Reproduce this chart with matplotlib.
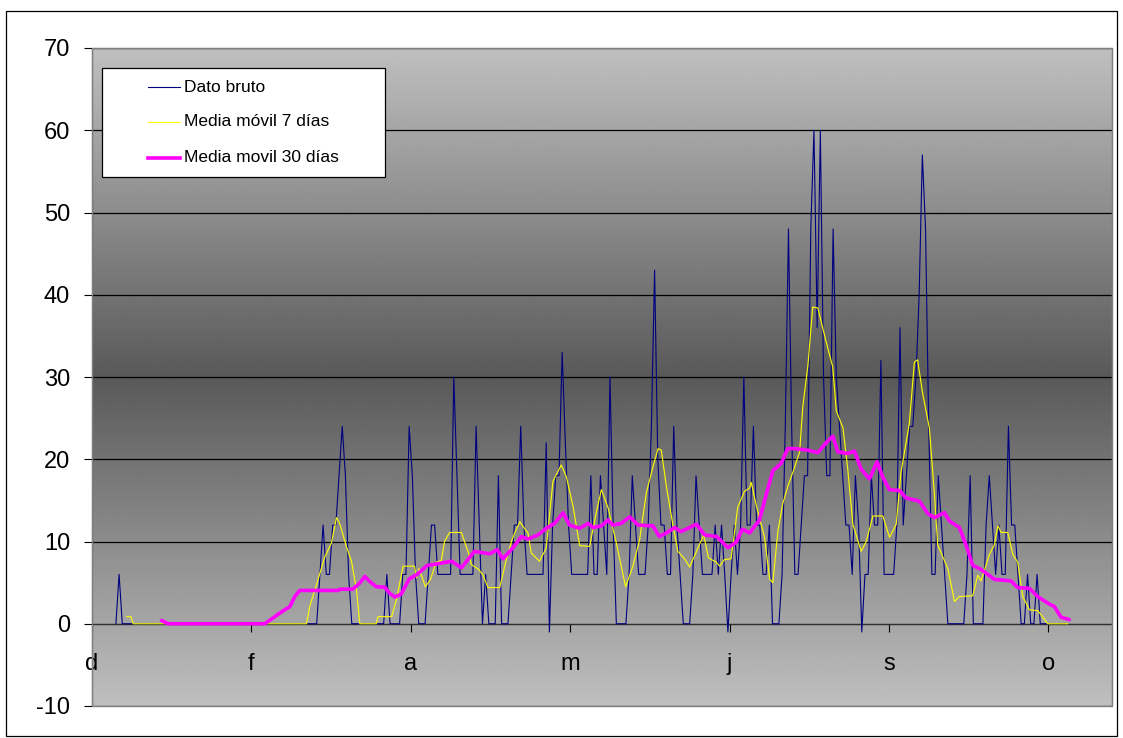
import numpy as np
import matplotlib
matplotlib.use('Agg')
import matplotlib.pyplot as plt
from matplotlib.patches import Rectangle
from matplotlib.lines import Line2D

plt.rcParams['font.family'] = ['Liberation Sans', 'DejaVu Sans']
plt.rcParams['axes.unicode_minus'] = False

W, H = 1123, 738

# dato bruto, one value per day starting at day 7
raw_first_day = 7
raw_values = [
    0, 6, 0, 0, 0, 0, 0, 0, 0, 0,
    0, 0, 0, 0, 0, 0, 0, 0, 0, 0,
    0, 0, 0, 0, 0, 0, 0, 0, 0, 0,
    0, 0, 0, 0, 0, 0, 0, 0, 0, 0,
    0, 0, 0, 0, 0, 0, 0, 0, 0, 0,
    0, 0, 0, 0, 0, 0, 0, 0, 0, 0,
    0, 0, 0, 0, 6, 12, 6, 6, 12, 12,
    18, 24, 18, 6, 0, 0, 0, 0, 0, 0,
    0, 0, 0, 0, 0, 6, 0, 0, 0, 0,
    6, 6, 24, 18, 6, 0, 0, 0, 6, 12,
    12, 6, 6, 6, 6, 6, 30, 18, 6, 6,
    6, 6, 6, 24, 12, 0, 6, 0, 0, 0,
    18, 0, 0, 0, 6, 12, 12, 24, 12, 6,
    6, 6, 6, 6, 6, 22, -1, 12, 18, 18,
    33, 22, 12, 6, 6, 6, 6, 6, 6, 18,
    6, 6, 18, 12, 6, 30, 12, 0, 0, 0,
    0, 6, 18, 12, 6, 6, 6, 12, 24, 43,
    20, 12, 12, 6, 6, 24, 12, 6, 0, 0,
    0, 6, 18, 12, 6, 6, 6, 6, 12, 6,
    12, 6, -1, 6, 12, 6, 12, 30, 12, 12,
    24, 12, 12, 6, 6, 12, 0, 0, 0, 6,
    24, 48, 24, 6, 6, 12, 18, 18, 48, 60,
    36, 60, 30, 18, 18, 48, 30, 24, 18, 12,
    12, 6, 18, 12, -1, 6, 6, 18, 12, 12,
    32, 6, 6, 6, 6, 12, 36, 12, 18, 24,
    24, 30, 40, 57, 48, 24, 6, 6, 18, 12,
    6, 0, 0, 0, 0, 0, 0, 6, 18, 0,
    0, 0, 0, 12, 18, 12, 6, 12, 6, 6,
    24, 12, 12, 6, 0, 0, 6, 0, 0, 6,
    0, 0, 0, 0, 0, 0, 0, 0, 0,
]

# media movil 7 dias
ma7_days = [10.9, 12.2, 12.9, 67.3, 68.3, 70.4, 73.0, 75.1, 76.7, 77.7, 79.8, 81.4,
            83.0, 84.0, 89.2, 89.7, 94.0, 95.5, 97.6, 101.2, 101.8, 102.6, 104.6,
            106.2, 108.0, 109.6, 110.6, 112.2, 115.9, 118.2, 119.0, 121.3, 122.7,
            124.2, 127.9, 130.0, 131.6, 132.6, 134.2, 136.8, 137.8, 140.4, 142.5,
            144.6, 147.2, 148.8, 150.9, 153.0, 156.1, 158.2, 159.8, 161.9, 164.5,
            167.4, 169.7, 171.8, 173.9, 176.0, 177.6, 178.6, 180.2, 182.2, 183.8,
            185.9, 187.5, 191.9, 193.4, 195.8, 196.9, 198.4, 200.5, 202.6, 204.7,
            206.3, 206.8, 208.4, 211.0, 212.6, 213.6, 215.2, 216.7, 218.3, 220.4,
            222.0, 223.0, 224.6, 226.1, 227.7, 230.3, 232.4, 233.5, 235.6, 237.1,
            238.7, 241.3, 242.9, 245.0, 248.1, 250.2, 252.3, 253.8, 256.4, 258.0,
            259.0, 260.6, 262.7, 264.3, 265.3, 268.5, 270.6, 272.1, 276.3, 277.9,
            278.9, 281.5, 283.1, 284.2, 285.2, 287.3, 288.9, 290.4, 292.0, 294.1,
            296.7, 298.3, 299.8, 306.1]
ma7_values = [0.86, 0.86, 0, 0, 2.1, 4.7, 8.1, 9.8, 12.9, 12.2, 9.4, 7.6,
              4.1, 0, 0, 0.86, 0.86, 2.9, 7.0, 7.0, 5.6, 6.7, 4.5,
              5.4, 7.5, 7.7, 10.0, 11.1, 11.1, 8.5, 7.2, 6.6, 5.9,
              4.4, 4.4, 7.8, 10.0, 11.0, 12.4, 11.0, 8.6, 7.6, 9.2,
              17.3, 19.3, 17.9, 14.3, 9.5, 9.4, 13.5, 16.3, 14.1, 9.8,
              4.5, 7.0, 10.2, 15.9, 19.1, 21.3, 21.1, 16.7, 12.1, 8.8,
              7.9, 6.9, 10.8, 8.0, 7.5, 7.0, 7.8, 7.9, 14.2, 16.1,
              16.5, 17.2, 14.4, 10.5, 5.4, 5.0, 11.3, 14.6, 16.7, 19.0,
              20.9, 26.4, 31.4, 38.5, 38.4, 34.3, 31.2, 25.9, 23.8, 18.8,
              12.1, 8.8, 10.0, 13.1, 13.1, 10.5, 12.1, 18.4, 24.3, 31.8,
              32.1, 28.0, 23.8, 15.7, 9.6, 6.7, 2.7, 3.3, 3.4, 5.9,
              5.2, 8.4, 9.6, 11.9, 11.1, 11.1, 8.4, 7.5, 3.3, 1.7,
              1.6, 0.8, 0, 0]

# media movil 30 dias
ma30_days = [21.8, 23.9, 54.2, 56.8, 58.9, 62.1, 63.6, 65.2, 77.2, 77.8, 81.8, 84.0,
             85.6, 87.1, 89.2, 91.8, 93.4, 95.0, 97.0, 99.5, 101.8, 105.2, 107.0,
             112.8, 115.9, 120.0, 124.8, 127.1, 128.9, 132.0, 134.7, 136.8, 139.9,
             142.5, 145.1, 147.8, 149.8, 153.0, 155.6, 157.2, 159.8, 161.9, 163.4,
             166.0, 168.7, 171.3, 176.0, 178.0, 180.4, 182.8, 184.8, 189.6, 192.2,
             196.0, 199.5, 202.1, 204.0, 206.3, 209.4, 211.5, 213.6, 216.2, 218.3,
             220.4, 224.6, 227.7, 230.3, 232.4, 234.0, 237.1, 239.2, 241.3, 243.9,
             246.3, 248.1, 250.2, 253.3, 255.4, 259.6, 262.2, 264.3, 267.4, 269.0,
             272.1, 274.2, 276.3, 278.9, 283.1, 288.3, 290.4, 294.1, 296.7, 300.3,
             301.9, 304.0, 306.6]
ma30_values = [0.4, 0, 0, 0.7, 1.3, 2.1, 3.3, 4.05, 4.05, 4.2, 4.2, 4.95,
               5.75, 5.15, 4.5, 4.45, 3.7, 3.25, 3.6, 5.45, 5.95, 7.1, 7.2,
               7.6, 6.8, 8.8, 8.5, 9.0, 7.9, 9.2, 10.6, 10.3, 10.8,
               11.6, 12.2, 13.5, 12.0, 11.6, 12.2, 11.7, 11.9, 12.6, 12.0,
               12.2, 13.0, 12.0, 11.9, 10.6, 11.1, 11.7, 11.2, 12.1, 10.8,
               10.6, 9.25, 9.9, 11.5, 11.05, 12.6, 15.7, 18.6, 19.5, 21.3,
               21.3, 21.1, 20.8, 22.0, 22.8, 20.9, 20.7, 21.0, 18.8, 17.6,
               19.7, 17.8, 16.3, 16.2, 15.3, 14.9, 13.4, 12.9, 13.5, 12.5,
               11.7, 9.6, 7.1, 6.6, 5.4, 5.2, 4.4, 4.3, 3.3, 2.4,
               2.1, 0.8, 0.5]

series_labels = ['Dato bruto', 'Media móvil 7 días', 'Media movil 30 días']
series_colors = ['#000080', '#FFFF00', '#FF00FF']
series_widths = [0.8, 0.8, 2.6]

tick_days = [0, 50, 100, 150, 200, 250, 300]
tick_labels = ['d', 'f', 'a', 'm', 'j', 's', 'o']
n_days = 320
y_ticks = list(range(-10, 71, 10))

fig = plt.figure(figsize=(W / 100, H / 100), dpi=100)
fig.patch.set_facecolor('white')
ax = fig.add_axes([92 / W, 1 - 706 / H, (1112 - 92) / W, (706 - 48) / H])

# grey gradient, dark in the middle
gv = np.linspace(-10, 70, 400)
shade = 0.35 + 0.40 * np.abs(gv - 30) / 40
ax.imshow(np.repeat(shade[:, None], 2, axis=1), cmap='gray', vmin=0, vmax=1,
          extent=[0, n_days, -10, 70], origin='lower', aspect='auto',
          interpolation='bilinear', zorder=0)

raw_x = np.arange(raw_first_day, raw_first_day + len(raw_values)) + 0.5
ax.plot(raw_x, raw_values, color=series_colors[0], lw=series_widths[0], zorder=3)
ax.plot(ma7_days, ma7_values, color=series_colors[1], lw=series_widths[1], zorder=4)
ax.plot(ma30_days, ma30_values, color=series_colors[2], lw=series_widths[2],
        solid_capstyle='round', solid_joinstyle='round', zorder=5)

ax.set_xlim(0, n_days)
ax.set_ylim(-10, 70)
ax.set_yticks(y_ticks)
ax.set_xticks(tick_days)
ax.set_xticklabels(tick_labels)
ax.yaxis.grid(True, color='black', lw=0.9)
ax.set_axisbelow(True)

ax.tick_params(axis='y', direction='out', length=5.8, width=0.8, labelsize=17, pad=10)
ax.tick_params(axis='x', direction='out', length=5.8, width=0.8, labelsize=17, pad=15.5)

ax.spines['bottom'].set_position(('data', 0))
ax.spines['bottom'].set_color('#303030')
ax.spines['bottom'].set_zorder(2)
ax.spines['left'].set_color('#303030')
for s in ['top', 'right']:
    ax.spines[s].set_color('#808080')
ax.add_patch(Rectangle((0, 0), 1, 1, transform=ax.transAxes, fill=False,
                       ec='#808080', lw=1.0, zorder=6, clip_on=False))


def fx(x):
    return x / W


def fy(y):
    return 1 - y / H


# legend drawn as in the original box
fig.add_artist(Rectangle((fx(102), fy(177)), fx(385) - fx(102), fy(68) - fy(177),
                         transform=fig.transFigure, fc='white', ec='black', lw=0.9, zorder=10))
rows_y = [87, 122, 158]
for lab, col, lw, ry in zip(series_labels, series_colors, series_widths, rows_y):
    fig.add_artist(Line2D([fx(148), fx(180)], [fy(ry), fy(ry)], transform=fig.transFigure,
                          color=col, lw=lw, zorder=11))
    fig.text(fx(184), fy(ry), lab, fontsize=12.5, va='center', ha='left', zorder=12)

# chart area border
fig.add_artist(Rectangle((fx(6), fy(736)), fx(1117) - fx(6), fy(11) - fy(736),
                         transform=fig.transFigure, fill=False, ec='black', lw=0.9))

fig.savefig('out.png', dpi=100)
